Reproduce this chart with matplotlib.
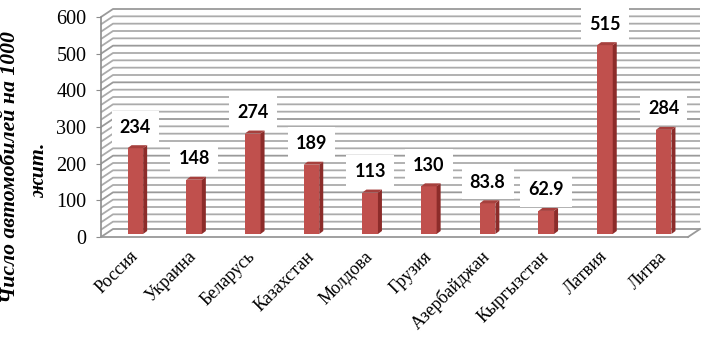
import matplotlib
matplotlib.use('Agg')
import matplotlib.pyplot as plt
from matplotlib.patches import Polygon
from matplotlib.transforms import offset_copy

countries = ['Россия', 'Украина', 'Беларусь', 'Казахстан', 'Молдова', 'Грузия',
             'Азербайджан', 'Кыргызстан', 'Латвия', 'Литва']
values = [234, 148, 274, 189, 113, 130, 83.8, 62.9, 515, 284]
value_labels = ['234', '148', '274', '189', '113', '130', '83.8', '62.9', '515', '284']
y_ticks = [0, 100, 200, 300, 400, 500, 600]
grid_step = 20
y_label_line1 = 'Число автомобилей на 1000'
y_label_line2 = 'жит.'

W, H = 707, 349
fig = plt.figure(figsize=(W / 100, H / 100), dpi=100)
fig.patch.set_facecolor('white')
ax_left, ax_bottom, ax_w, ax_h = 101, 112, 587, 220
ax = fig.add_axes([ax_left / W, ax_bottom / H, ax_w / W, ax_h / H])
n = len(countries)
ax.set_xlim(-0.5, n - 0.5)
ax.set_ylim(0, 600)
ax.set_facecolor('none')

# pixel -> data unit conversion
px_x = ax_w / n
px_y = ax_h / 600.0

def dx(px):
    return px / px_x

def dy(px):
    return px / px_y

# depth of the back wall
wall_dx, wall_dy = dx(12), dy(8)
x0, x1 = -0.5, n - 0.5

grid_color = '#ababab'
for v in range(0, 601, grid_step):
    col = '#9a9a9a' if v % 100 == 0 else grid_color
    ax.plot([x0, x0 + wall_dx, x1 + wall_dx], [v, v + wall_dy, v + wall_dy],
            color=col, lw=1.3, clip_on=False, zorder=1, solid_capstyle='butt')
# floor right edge
ax.plot([x1, x1 + wall_dx], [0, wall_dy], color='#999999', lw=1.3, clip_on=False, zorder=1)

# bars (3D-ish)
bw = dx(15.6)
bx, by = dx(5), dy(3)
sdx, sdy = dx(4), dy(3)
front_c, side_c, top_c = '#c0504d', '#8c2c2a', '#a6403d'
for i, v in enumerate(values):
    xl = i + bx - bw / 2
    xr = i + bx + bw / 2
    ax.bar(i + bx, v, width=bw, bottom=by, color=front_c, edgecolor='none', zorder=3)
    side = Polygon([(xr, by), (xr + sdx, by + sdy), (xr + sdx, v + by + sdy), (xr, v + by)],
                   closed=True, fc=side_c, ec='none', zorder=3, clip_on=False)
    top = Polygon([(xl, v + by), (xr, v + by), (xr + sdx, v + by + sdy), (xl + sdx, v + by + sdy)],
                  closed=True, fc=top_c, ec='none', zorder=3, clip_on=False)
    ax.add_patch(side)
    ax.add_patch(top)
    ax.text(i + bx, v, value_labels[i],
            transform=offset_copy(ax.transData, fig, x=0, y=24, units='dots'),
            ha='center', va='center', fontsize=13, fontweight='bold', family='Lato',
            color='black', zorder=5,
            bbox=dict(boxstyle='square,pad=0.45', fc='white', ec='none'))

# axes styling
for s in ['top', 'right']:
    ax.spines[s].set_visible(False)
ax.spines['left'].set_color('#8c8c8c')
ax.spines['bottom'].set_color('#999999')
ax.spines['left'].set_linewidth(1.2)
ax.spines['bottom'].set_linewidth(1.3)
ax.set_yticks(y_ticks)
ax.set_yticklabels([str(t) for t in y_ticks], family='Liberation Serif', fontsize=14.5)
ax.tick_params(axis='y', length=3.6, color='#8c8c8c', pad=7)
ax.set_xticks([])

tl = offset_copy(ax.transData, fig, x=5, y=-17, units='dots')
for i, name in enumerate(countries):
    ax.text(i, 0, name, transform=tl, rotation=45, rotation_mode='anchor',
            ha='right', va='center', family='Liberation Serif', fontsize=13,
            clip_on=False)

fig.text(10 / W, 1 - 167 / H, y_label_line1, rotation=90, ha='center', va='center',
         family='Liberation Serif', fontweight='bold', style='italic', fontsize=15.7)
fig.text(39 / W, 1 - 170 / H, y_label_line2, rotation=90, ha='center', va='center',
         family='Liberation Serif', fontweight='bold', style='italic', fontsize=15.7)

fig.savefig('out.png', dpi=100, facecolor='white')
